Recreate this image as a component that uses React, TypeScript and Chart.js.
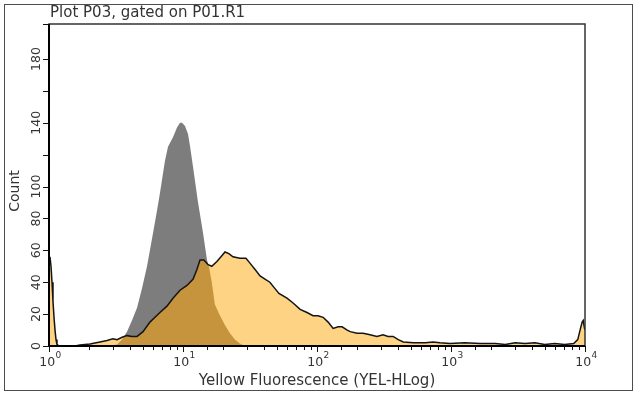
import React, { useEffect, useRef } from "react";
import { Chart, registerables } from "chart.js";

Chart.register(...registerables);

// ---- Data ----
const titleText = "Plot P03, gated on P01.R1";
const xAxisTitle = "Yellow Fluorescence (YEL-HLog)";
const yAxisTitle = "Count";

// Control (gray) histogram: fluorescence value and count
const grayX = [2.4, 2.85, 3.22, 3.51, 3.82, 4.16, 4.54, 4.94, 5.39, 5.98, 6.4, 6.73, 7.33, 7.73, 8.42, 9.02, 9.5, 9.83, 10.35, 10.9, 11.3, 11.9, 12.9, 14.1, 15.1, 15.6, 16.4, 17.3, 18.9, 20.6, 22.4, 24.4, 26.6, 29.0];
const grayY = [0, 0.3, 1, 4, 9, 16, 24, 36, 50, 71, 85, 96, 116, 125, 131, 137, 140, 140, 138, 133, 125, 112, 91, 71, 54, 50, 40, 26, 19, 13, 8, 4, 1.5, 0];

// Sample (yellow) histogram
const yellowX = [1.0, 1.017, 1.035, 1.053, 1.071, 1.09, 1.109, 1.128, 1.147, 1.188, 1.563, 1.703, 2.02, 2.4, 2.71, 3.0, 3.22, 3.51, 3.82, 4.16, 4.54, 5.03, 5.67, 6.18, 6.73, 7.59, 8.42, 9.5, 10.7, 11.9, 12.7, 13.4, 14.3, 15.4, 16.4, 17.9, 19.2, 20.6, 22.0, 23.6, 26.6, 29.5, 31.6, 34.5, 37.6, 40.9, 44.5, 48.6, 52.0, 59.7, 66.3, 74.8, 84.2, 93.5, 101.8, 111, 121, 132, 144, 154, 168, 177, 199, 221, 249, 280, 311, 339, 370, 404, 441, 524, 643, 734, 827, 982, 1270, 1650, 2140, 2540, 3010, 3570, 4230, 5010, 5940, 7040, 8240, 8830, 9190, 9520, 9700, 9870, 10000];
const yellowY = [54, 56, 50, 40, 28, 18, 10, 4, 1, 0, 0, 0.6, 1.2, 2.5, 3.5, 4.5, 4, 5.5, 6.5, 6, 6, 9, 15, 18, 21, 25, 30, 35, 38, 42, 48, 54, 54, 51, 50, 53, 56, 59, 58, 56, 55, 55, 52, 48, 44, 42, 40, 36, 33, 30, 27, 23, 21, 19, 19, 18, 15, 11, 12, 12, 10, 9, 8, 8, 7, 6, 7, 6, 6, 4, 2.5, 2, 2, 2.5, 2, 1.5, 2, 1.5, 1.5, 1, 2, 1.5, 2, 1, 1.5, 1, 1.5, 4, 10, 15, 16, 12, 10];

// Axes
const xMin = 1;
const xMax = 10000;
const xDecades = [1, 10, 100, 1000, 10000];
const xDecadeExponents = ["0", "1", "2", "3", "4"];
const yMin = 0;
const yMax = 202;
const yStep = 20;
const yLabelValues = [0, 20, 40, 60, 80, 100, 140, 180];

const toPts = (xs: number[], ys: number[]) => xs.map((x, i) => ({ x, y: ys[i] }));

const FONT = "'DejaVu Sans', Verdana, sans-serif";

export default function App() {
  const ref = useRef<HTMLCanvasElement | null>(null);

  useEffect(() => {
    document.body.style.margin = "0";
    const canvas = ref.current!;

    const compositePlugin = {
      id: "overlapComposite",
      afterDatasetDraw(chart: any, args: any) {
        const ctx = chart.ctx;
        if (args.index === 0) ctx.globalCompositeOperation = "source-atop";
        else if (args.index === 1) ctx.globalCompositeOperation = "destination-over";
        else ctx.globalCompositeOperation = "source-over";
      },
    };

    const axesPlugin = {
      id: "flowAxes",
      afterDraw(chart: any) {
        const ctx = chart.ctx as CanvasRenderingContext2D;
        const { left, right, top, bottom } = chart.chartArea;
        const xs = chart.scales.x;
        const ys = chart.scales.y;
        ctx.save();
        ctx.globalCompositeOperation = "source-over";

        // outer frame
        ctx.strokeStyle = "#4d4d4d";
        ctx.lineWidth = 1;
        ctx.strokeRect(4.5, 4.5, 628, 386);

        // plot frame
        ctx.strokeStyle = "#333";
        ctx.lineWidth = 1.5;
        ctx.strokeRect(left, top, right - left, bottom - top);

        // axis lines
        ctx.strokeStyle = "#000";
        ctx.lineWidth = 2;
        ctx.beginPath();
        ctx.moveTo(left, top);
        ctx.lineTo(left, bottom);
        ctx.lineTo(right, bottom);
        ctx.stroke();

        // x ticks
        ctx.lineWidth = 1;
        ctx.strokeStyle = "#111";
        for (const t of xs.ticks) {
          const v = t.value;
          if (v < xMin || v > xMax) continue;
          const lg = Math.log10(v);
          const major = Math.abs(lg - Math.round(lg)) < 1e-6;
          const px = Math.round(xs.getPixelForValue(v)) + 0.5;
          ctx.beginPath();
          ctx.moveTo(px, bottom);
          ctx.lineTo(px, bottom + (major ? 6 : 4));
          ctx.stroke();
        }

        // y ticks
        for (const t of ys.ticks) {
          const py = Math.round(ys.getPixelForValue(t.value)) + 0.5;
          ctx.beginPath();
          ctx.moveTo(left - 6, py);
          ctx.lineTo(left, py);
          ctx.stroke();
        }

        ctx.fillStyle = "#333";
        // y labels rotated
        ctx.font = `12.5px ${FONT}`;
        ctx.textAlign = "center";
        ctx.textBaseline = "middle";
        for (const v of yLabelValues) {
          const py = ys.getPixelForValue(v);
          ctx.save();
          ctx.translate(37, py);
          ctx.rotate(-Math.PI / 2);
          ctx.fillText(String(v), 0, 0);
          ctx.restore();
        }

        // x labels with superscript exponent
        xDecades.forEach((v, i) => {
          const px = xs.getPixelForValue(v);
          ctx.font = `12.5px ${FONT}`;
          const wBase = ctx.measureText("10").width;
          ctx.font = `9px ${FONT}`;
          const wExp = ctx.measureText(xDecadeExponents[i]).width;
          const start = px - (wBase + wExp) / 2 + 1;
          ctx.textAlign = "left";
          ctx.textBaseline = "alphabetic";
          ctx.font = `12.5px ${FONT}`;
          ctx.fillText("10", start, 366);
          ctx.font = `9px ${FONT}`;
          ctx.fillText(xDecadeExponents[i], start + wBase + 0.5, 358);
        });

        // axis titles
        ctx.font = `15px ${FONT}`;
        ctx.textAlign = "center";
        ctx.textBaseline = "middle";
        ctx.fillText(xAxisTitle, (left + right) / 2, 381);
        ctx.textAlign = "left";
        ctx.fillText(titleText, 50, 13);

        ctx.save();
        ctx.font = `14px ${FONT}`;
        ctx.translate(15, 191);
        ctx.rotate(-Math.PI / 2);
        ctx.textAlign = "center";
        ctx.fillText(yAxisTitle, 0, 0);
        ctx.restore();

        ctx.restore();
      },
    };

    const yellowPts = toPts(yellowX, yellowY);

    const chart = new Chart(canvas, {
      type: "line",
      data: {
        datasets: [
          {
            label: "Control",
            data: toPts(grayX, grayY),
            backgroundColor: "#7d7d7d",
            borderWidth: 0,
            fill: "origin",
            pointRadius: 0,
            order: 4,
          },
          {
            label: "Overlap",
            data: yellowPts,
            backgroundColor: "#c6943d",
            borderWidth: 0,
            fill: "origin",
            pointRadius: 0,
            order: 3,
          },
          {
            label: "Sample",
            data: yellowPts,
            backgroundColor: "#fed383",
            borderWidth: 0,
            fill: "origin",
            pointRadius: 0,
            order: 2,
          },
          {
            label: "Sample outline",
            data: yellowPts,
            borderColor: "#141414",
            borderWidth: 1.5,
            fill: false,
            pointRadius: 0,
            order: 1,
          },
        ],
      },
      options: {
        responsive: false,
        animation: false,
        parsing: true,
        layout: { padding: { left: 4, top: 24, right: 55, bottom: 0 } },
        plugins: {
          legend: { display: false },
          tooltip: { enabled: false },
          title: { display: false },
        },
        elements: { line: { tension: 0 }, point: { radius: 0 } },
        scales: {
          x: {
            type: "logarithmic",
            min: xMin,
            max: xMax,
            ticks: { display: false },
            grid: { display: false },
            border: { display: false },
            afterFit: (s: any) => {
              s.height = 51;
            },
          },
          y: {
            type: "linear",
            min: yMin,
            max: yMax,
            ticks: { display: false, stepSize: yStep },
            grid: { display: false },
            border: { display: false },
            afterFit: (s: any) => {
              s.width = 45;
            },
          },
        },
      } as any,
      plugins: [compositePlugin, axesPlugin],
    });

    return () => chart.destroy();
  }, []);

  return (
    <div style={{ width: 640, height: 397, background: "#fff" }}>
      <canvas ref={ref} width={640} height={397} style={{ display: "block" }} />
    </div>
  );
}
